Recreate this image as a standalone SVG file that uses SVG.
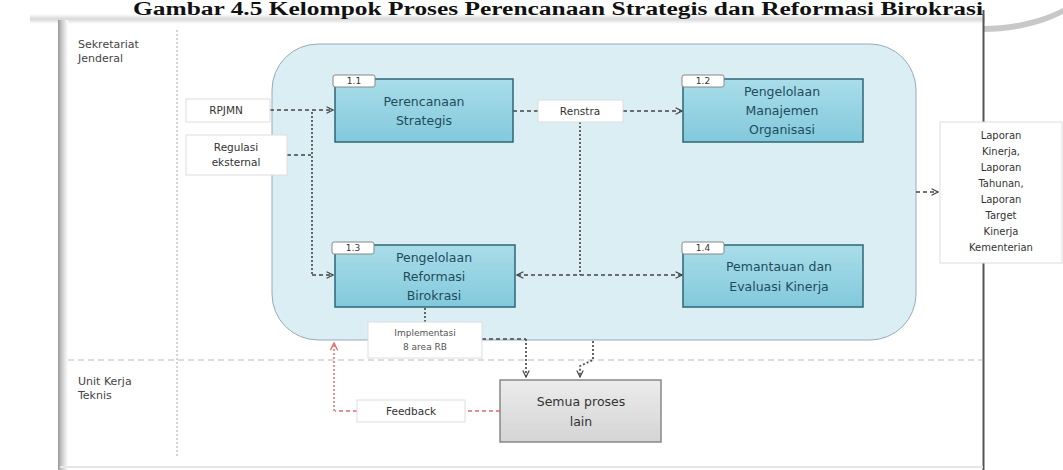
<svg xmlns="http://www.w3.org/2000/svg" width="1063" height="470" viewBox="0 0 1063 470">
<defs>
<style>
.title{font-family:"Liberation Serif",serif;font-weight:bold;font-size:18px;fill:#111}
.lane{font-family:"DejaVu Sans","Open Sans",sans-serif;font-size:11px;fill:#444}
.pt{font-family:"DejaVu Sans","Open Sans",sans-serif;font-size:12.5px;fill:#1f4c5c;text-anchor:middle}
.tag{font-family:"DejaVu Sans",sans-serif;font-size:9px;fill:#333;text-anchor:middle}
.lbl{font-family:"DejaVu Sans","Open Sans",sans-serif;font-size:10.5px;fill:#333;text-anchor:middle}
.sm{font-family:"DejaVu Sans","Open Sans",sans-serif;font-size:9px;fill:#555;text-anchor:middle}
.proc{fill:url(#gBlue);stroke:#2e6676;stroke-width:1.5}
.tagbox{fill:#fff;stroke:#888;stroke-width:1}
.wbox{fill:#fff;stroke:#ddd;stroke-width:1}
.dash{fill:none;stroke:#444;stroke-width:1.3;stroke-dasharray:4 3}
.dot{fill:none;stroke:#555;stroke-width:1.8;stroke-dasharray:2 2}
.red{fill:none;stroke:#e06a6a;stroke-width:1.3;stroke-dasharray:4 3}
.reddot{fill:none;stroke:#e07070;stroke-width:1.5;stroke-dasharray:2 2}
</style>
<linearGradient id="gBlue" x1="0" y1="0" x2="0" y2="1">
<stop offset="0" stop-color="#a9dde9"/><stop offset="1" stop-color="#82c9dc"/>
</linearGradient>
<linearGradient id="gGrey" x1="0" y1="0" x2="0" y2="1">
<stop offset="0" stop-color="#ececec"/><stop offset="1" stop-color="#d4d4d4"/>
</linearGradient>
<linearGradient id="gTop" x1="0" y1="0" x2="0" y2="1">
<stop offset="0" stop-color="#fff"/><stop offset="0.5" stop-color="#d8d8d8"/><stop offset="1" stop-color="#fff"/>
</linearGradient>
<linearGradient id="gLeft" x1="0" y1="0" x2="1" y2="0">
<stop offset="0" stop-color="#999"/><stop offset="0.4" stop-color="#ccc"/><stop offset="1" stop-color="#fff"/>
</linearGradient>
<marker id="arr" viewBox="0 0 10 10" refX="9" refY="5" markerWidth="8" markerHeight="8" orient="auto-start-reverse" markerUnits="userSpaceOnUse">
<path d="M1,1 L9,5 L1,9" fill="none" stroke="#444" stroke-width="1.5"/>
</marker>
<marker id="arrR" viewBox="0 0 10 10" refX="9" refY="5" markerWidth="9" markerHeight="9" orient="auto" markerUnits="userSpaceOnUse">
<path d="M1,1 L9,5 L1,9" fill="none" stroke="#e06a6a" stroke-width="1.5"/>
</marker>
</defs>
<rect width="1063" height="470" fill="#fff"/>
<g id="frame">
<rect x="30" y="14" width="955" height="10" fill="url(#gTop)"/>
<rect x="58" y="20" width="10" height="450" fill="url(#gLeft)"/>
<path d="M983,26 C1010,26 1040,20 1063,8 L1063,14 C1040,26 1010,32 983,32 Z" fill="#c8c8c8"/>
<line x1="983.5" y1="10" x2="983.5" y2="470" stroke="#555" stroke-width="2"/>
<line x1="60" y1="467" x2="983" y2="467" stroke="#e6e6e6" stroke-width="2"/>
</g>
<text class="title" x="558" y="15" text-anchor="middle" textLength="850" lengthAdjust="spacingAndGlyphs">Gambar  4.5 Kelompok Proses Perencanaan Strategis dan Reformasi Birokrasi</text>
<g id="lanes">
<line x1="177" y1="30" x2="177" y2="456" stroke="#aaa" stroke-width="1" stroke-dasharray="2 2"/>
<line x1="68" y1="360" x2="983" y2="360" stroke="#bbb" stroke-width="1" stroke-dasharray="6 4"/>
<text class="lane" x="78" y="48">Sekretariat</text>
<text class="lane" x="78" y="62">Jenderal</text>
<text class="lane" x="78" y="385">Unit Kerja</text>
<text class="lane" x="78" y="399">Teknis</text>
</g>
<g id="container">
<rect x="272" y="44" width="644" height="296" rx="46" ry="46" fill="#daeef4" stroke="#9ab" stroke-width="1"/>
</g>
<g id="connectors">
<path class="dash" d="M270,110 H333" marker-end="url(#arr)"/>
<path class="dash" d="M287,155 H311"/>
<path class="dot" d="M312,112 V275"/>
<path class="dash" d="M312,275 H333" marker-end="url(#arr)"/>
<path class="dash" d="M513,111 H538"/>
<path class="dash" d="M623,111 H682" marker-end="url(#arr)"/>
<path class="dot" d="M580,122 V275"/>
<path class="dash" d="M517,275 H682" marker-start="url(#arr)" marker-end="url(#arr)"/>
<path class="dot" d="M425,308 V322"/>
<path class="dash" d="M482,339 H526"/>
<path class="dot" d="M526,339 V377" marker-end="url(#arr)"/>
<path class="dot" d="M593,341 V360 L580,366 V377" marker-end="url(#arr)"/>
<path class="dash" d="M916,192 H938" marker-end="url(#arr)"/>
<path class="red" d="M500,411 H465"/>
<path class="red" d="M357,411 H335"/>
<path class="reddot" d="M334,411 V343" marker-end="url(#arrR)"/>
</g>
<g id="n_rpjmn">
<rect class="wbox" x="186" y="99" width="84" height="23"/>
<text class="lbl" x="226" y="114">RPJMN</text>
</g>
<g id="n_regulasi">
<rect class="wbox" x="186" y="135" width="101" height="40"/>
<text class="lbl" x="236" y="151">Regulasi</text>
<text class="lbl" x="236" y="166">eksternal</text>
</g>
<g id="n_11">
<rect class="proc" x="335" y="79" width="178" height="63"/>
<rect class="tagbox" x="333" y="75" width="42" height="12" rx="2"/>
<text class="tag" x="354" y="84">1.1</text>
<text class="pt" x="424" y="106">Perencanaan</text>
<text class="pt" x="424" y="125">Strategis</text>
</g>
<g id="n_renstra">
<rect class="wbox" x="538" y="100" width="85" height="22"/>
<text class="lbl" x="580" y="115">Renstra</text>
</g>
<g id="n_12">
<rect class="proc" x="683" y="79" width="180" height="63"/>
<rect class="tagbox" x="682" y="75" width="42" height="12" rx="2"/>
<text class="tag" x="703" y="84">1.2</text>
<text class="pt" x="782" y="96">Pengelolaan</text>
<text class="pt" x="782" y="115">Manajemen</text>
<text class="pt" x="782" y="134">Organisasi</text>
</g>
<g id="n_13">
<rect class="proc" x="335" y="245" width="180" height="62"/>
<rect class="tagbox" x="332" y="242" width="42" height="12" rx="2"/>
<text class="tag" x="353" y="251">1.3</text>
<text class="pt" x="434" y="262">Pengelolaan</text>
<text class="pt" x="434" y="281">Reformasi</text>
<text class="pt" x="434" y="300">Birokrasi</text>
</g>
<g id="n_14">
<rect class="proc" x="683" y="245" width="180" height="62"/>
<rect class="tagbox" x="682" y="242" width="42" height="12" rx="2"/>
<text class="tag" x="703" y="251">1.4</text>
<text class="pt" x="779" y="271">Pemantauan dan</text>
<text class="pt" x="779" y="291">Evaluasi Kinerja</text>
</g>
<g id="n_impl">
<rect class="wbox" x="368" y="322" width="114" height="36"/>
<text class="sm" x="425" y="336">Implementasi</text>
<text class="sm" x="425" y="350">8 area RB</text>
</g>
<g id="n_semua">
<rect x="500" y="380" width="161" height="62" fill="url(#gGrey)" stroke="#888" stroke-width="1.5"/>
<text class="pt" x="581" y="406" style="fill:#333">Semua proses</text>
<text class="pt" x="581" y="426" style="fill:#333">lain</text>
</g>
<g id="n_feedback">
<rect class="wbox" x="357" y="400" width="108" height="22"/>
<text class="lbl" x="411" y="415">Feedback</text>
</g>
<g id="n_laporan">
<rect class="wbox" x="940" y="122" width="122" height="141" stroke="#ccc"/>
<text class="lbl" x="1001" y="139" style="font-size:10px">Laporan</text>
<text class="lbl" x="1001" y="155" style="font-size:10px">Kinerja,</text>
<text class="lbl" x="1001" y="171" style="font-size:10px">Laporan</text>
<text class="lbl" x="1001" y="187" style="font-size:10px">Tahunan,</text>
<text class="lbl" x="1001" y="203" style="font-size:10px">Laporan</text>
<text class="lbl" x="1001" y="219" style="font-size:10px">Target</text>
<text class="lbl" x="1001" y="235" style="font-size:10px">Kinerja</text>
<text class="lbl" x="1001" y="251" style="font-size:10px">Kementerian</text>
</g>
</svg>
